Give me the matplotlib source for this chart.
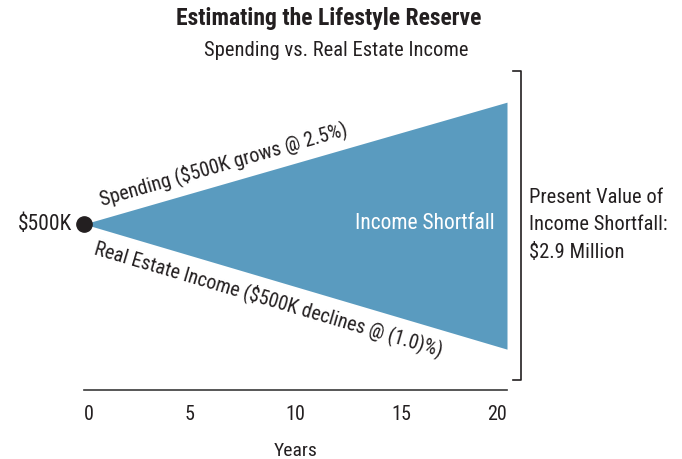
import matplotlib
matplotlib.use('Agg')
import matplotlib.pyplot as plt
import numpy as np

# schematic values ($K)
years = [0, 20]
spending = [500, 867]
income = [500, 123]
xticks = [0, 5, 10, 15, 20]
bracket = [30, 961]

fill_color = '#5a9bbf'
text_color = '#231f20'

plt.rcParams['font.family'] = ['Roboto Condensed', 'DejaVu Sans']

fig = plt.figure(figsize=(6.82, 4.60), dpi=100)
ax = fig.add_axes([84/682, (460-391)/460, (507-84)/682, (391-59)/460])

ax.fill_between(years, income, spending, color=fill_color, linewidth=0)
ax.plot(years[0], spending[0], 'o', color=text_color, markersize=11, clip_on=False, zorder=5)

ax.set_xlim(0, 20)
ax.set_ylim(0, 1000)
for s in ['top', 'right', 'left']:
    ax.spines[s].set_visible(False)
ax.spines['bottom'].set_color('#3a3a3a')
ax.spines['bottom'].set_linewidth(1.2)
ax.set_yticks([])
ax.set_xticks(xticks)
ax.set_xticklabels([str(t) for t in xticks], fontsize=14.5, color=text_color)
ax.tick_params(axis='x', length=0, pad=10)
labs = ax.get_xticklabels()
labs[0].set_ha('left')
labs[-1].set_ha('right')
ax.set_xlabel('Years', fontsize=14, color=text_color, labelpad=13)

# bracket on the right
bx = 20.66
ax.plot([bx - 0.38, bx, bx, bx - 0.38], [bracket[1], bracket[1], bracket[0], bracket[0]],
        color=text_color, linewidth=1.2, clip_on=False)
ax.text(bx + 0.4, spending[0], 'Present Value of\nIncome Shortfall:\n$2.9 Million',
        fontsize=14.8, color=text_color, ha='left', va='center', linespacing=1.55)

ax.text(-0.55, spending[0], '$500K', fontsize=15.5, color=text_color, ha='right', va='center')
ax.text(16.1, spending[0] + 5, 'Income Shortfall', fontsize=15.5, color='white', ha='center', va='center')

# labels along the two lines
ang_up = np.degrees(np.arctan2(122, 423))
ang_dn = np.degrees(np.arctan2(125, 423))
ax.text(6.6, 684, 'Spending ($500K grows @ 2.5%)', fontsize=14.5, color=text_color,
        rotation=ang_up, ha='center', va='center', rotation_mode='anchor')
ax.text(8.75, 278, 'Real Estate Income ($500K declines @ (1.0)%)', fontsize=14.3, color=text_color,
        rotation=-ang_dn, ha='center', va='center', rotation_mode='anchor')

fig.text(329/682, 1 - 18/460, 'Estimating the Lifestyle Reserve', fontsize=17, fontweight='bold',
         color=text_color, ha='center', va='center')
fig.text(336/682, 1 - 50/460, 'Spending vs. Real Estate Income', fontsize=14.8,
         color=text_color, ha='center', va='center')

fig.savefig('out.png', dpi=100)
